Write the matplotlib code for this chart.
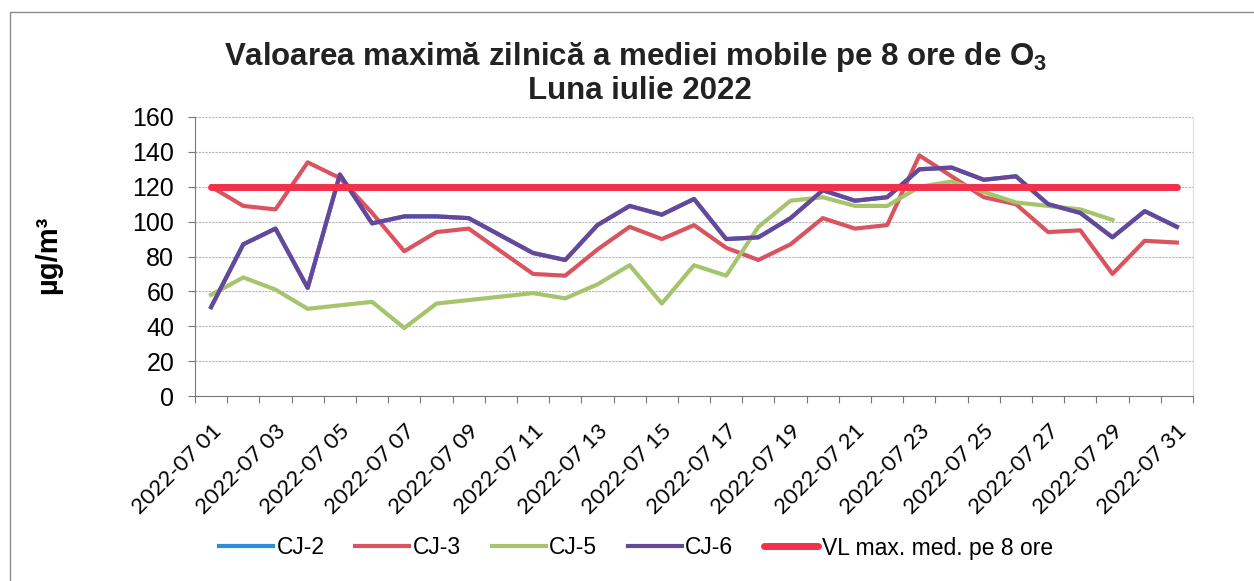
import numpy as np
import matplotlib
matplotlib.use("Agg")
import matplotlib.pyplot as plt
from matplotlib.patches import Rectangle

plt.rcParams['font.family'] = ['Liberation Sans', 'DejaVu Sans']
plt.rcParams['mathtext.fontset'] = 'custom'
plt.rcParams['mathtext.rm'] = 'Liberation Sans'
plt.rcParams['mathtext.bf'] = 'Liberation Sans:bold'

# data (July 2022, daily max of 8h running mean, ug/m3)
days = ["2022-07 %02d" % d for d in range(1, 32)]
cj2 = [51, 87, 96, 62, 127, 99, 103, 103, 102, 92, 82, 78, 98, 109, 104, 113,
       90, 91, 102, 118, 112, 114, 130, 131, 124, 126, 110, 105, 91, 106, 97]
cj3 = [120, 109, 107, 134, 125, 105, 83, 94, 96, 83, 70, 69, 84, 97, 90, 98,
       85, 78, 87, 102, 96, 98, 138, 126, 114, 110, 94, 95, 70, 89, 88]
cj5 = [58, 68, 61, 50, 52, 54, 39, 53, 55, 57, 59, 56, 64, 75, 53, 75,
       69, 97, 112, 114, 109, 109, 120, 123, 117, 111, 109, 107, 101, np.nan, np.nan]
cj6 = [51, 87, 96, 62, 127, 99, 103, 103, 102, 92, 82, 78, 98, 109, 104, 113,
       90, 91, 102, 118, 112, 114, 130, 131, 124, 126, 110, 105, 91, 106, 97]
vl = [120] * 31

x = np.arange(len(days))

fig = plt.figure(figsize=(12.54, 5.81), dpi=100)
ax = fig.add_axes([195/1254, 1-396/581, 998/1254, 279/581])

# outer chart border (cropped on right / bottom in the scan)
fig.patches.append(Rectangle((10/1254, -0.05), 1.1, 1-12/581+0.05, transform=fig.transFigure,
                             fill=False, edgecolor='#8a8a8a', linewidth=1.0))

ax.plot(x, cj2, color='#2b8fd6', lw=3.0, label='CJ-2')
ax.plot(x, cj3, color='#d9545f', lw=3.0, label='CJ-3')
ax.plot(x, cj5, color='#a6c46c', lw=3.0, label='CJ-5')
ax.plot(x, cj6, color='#66479a', lw=3.0, label='CJ-6')
ax.plot(x, vl, color='#f2304c', lw=5, solid_capstyle='round', label='VL max. med. pe 8 ore')

ax.set_xlim(-0.5, len(days) - 0.5)
ax.set_ylim(0, 160)
ax.set_yticks(np.arange(0, 161, 20))
ax.yaxis.grid(True, color='#b5b5b5', linestyle=(0, (2, 1)), linewidth=0.8)
ax.set_axisbelow(True)

# category axis: tick marks between days, labels on every other day
ax.set_xticks(np.arange(-0.5, len(days)), labels=[])
ax.set_xticks(x[::2], minor=True)
ax.set_xticklabels(days[::2], minor=True, rotation=45, ha='right', va='top',
                   rotation_mode='anchor', fontsize=16)
for lbl in ax.get_xticklabels(minor=True):
    lbl.set_fontfamily('Lato')
ax.tick_params(axis='x', which='major', length=5, color='#777777')
ax.tick_params(axis='x', which='minor', length=0, pad=18)
ax.tick_params(axis='y', length=5, color='#777777', labelsize=18, pad=10)

ax.spines['top'].set_visible(False)
ax.spines['left'].set_color('#777777')
ax.spines['bottom'].set_color('#777777')
ax.spines['right'].set_color('#dddddd')

fig.text(48/1254, 1-255/581, 'µg/m³', rotation=90, ha='center', va='center',
         fontsize=21, fontweight='bold')

fig.text(636/1254, 1-65/581, r'Valoarea maximă zilnică a mediei mobile pe 8 ore de O$_\mathbf{3}$',
         ha='center', va='baseline', fontsize=22.5, fontweight='bold', color='#222222')
fig.text(640/1254, 1-99/581, 'Luna iulie 2022', ha='center', va='baseline',
         fontsize=22.5, fontweight='bold', color='#222222')

fig.legend(loc='center', bbox_to_anchor=(636/1254, 1-548/581), ncol=5, frameon=False,
           fontsize=16.5, handlelength=2.35, handletextpad=0.15, columnspacing=1.35)

fig.savefig('out.png', dpi=100)
